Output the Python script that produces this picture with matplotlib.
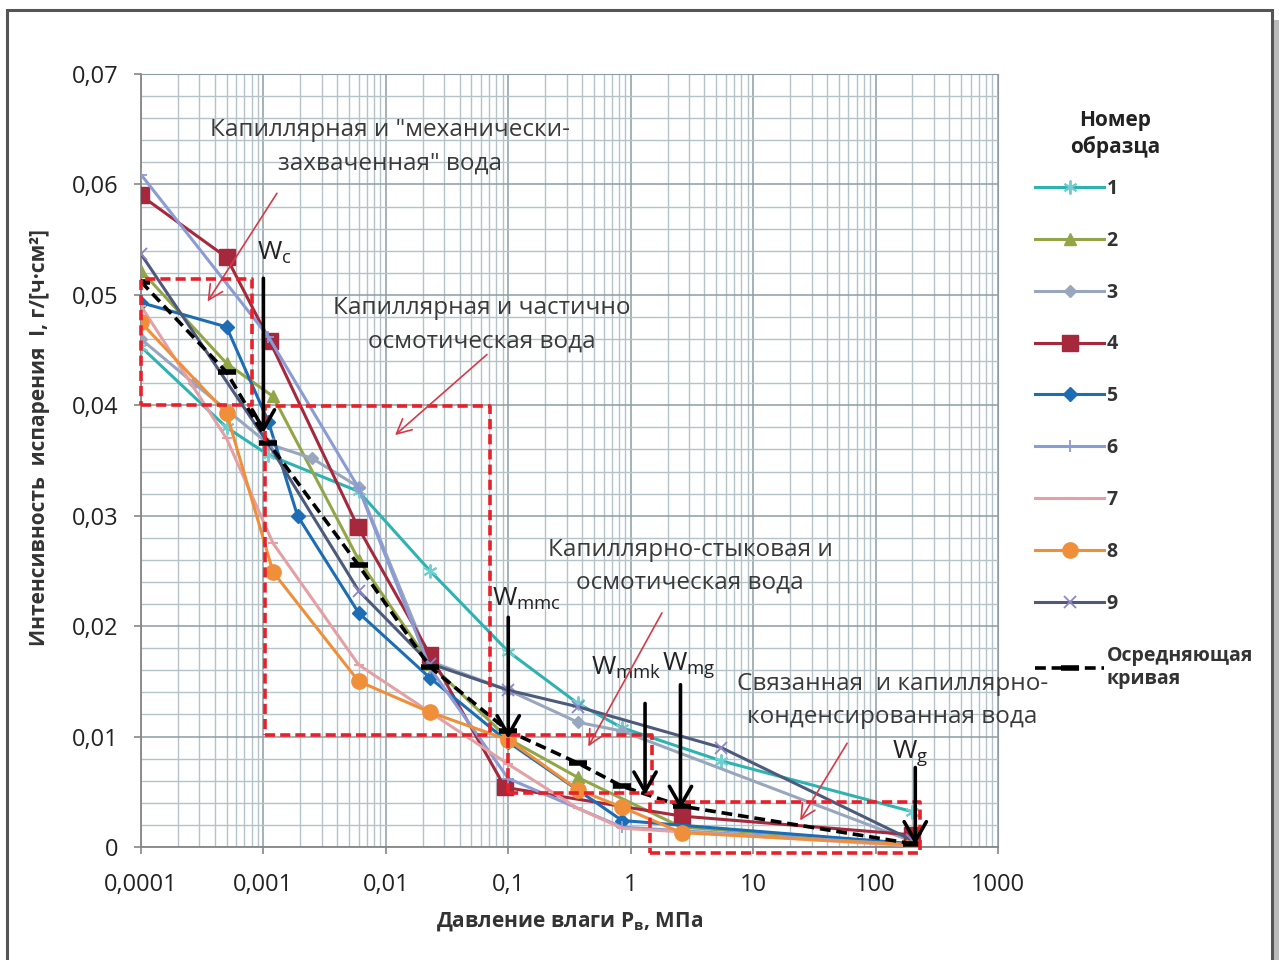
"""
Интенсивность испарения в зависимости от давления влаги (9 образцов + осредняющая кривая)
Выход: out.png
"""

import matplotlib
matplotlib.use("Agg")
import matplotlib.pyplot as plt
from matplotlib.patches import Rectangle
from matplotlib.ticker import FixedLocator, FixedFormatter, LogLocator, MultipleLocator, NullFormatter

FONT = ["Open Sans", "DejaVu Sans"]
TEXT = "#333333"
GRID_MAJ = "#8C9CA2"
GRID_MIN = "#B3C3C8"

plt.rcParams.update({
    "font.family": FONT,
    "mathtext.default": "regular",
    "text.color": TEXT,
    "axes.labelcolor": TEXT,
    "xtick.color": "#868686",
    "ytick.color": "#868686",
})

# ── Данные ────────────────────────────────────────────────────────────────────
x1 = [1e-4, 5e-4, 1.1e-3, 6e-3, 0.023, 0.1, 0.37, 0.85, 5.5, 200]
y1 = [0.0453, 0.038, 0.0355, 0.0322, 0.025, 0.0177, 0.013, 0.0108, 0.0078, 0.0032]

x2 = [1e-4, 5e-4, 1.2e-3, 6e-3, 0.023, 0.1, 0.37, 2.6, 200]
y2 = [0.0522, 0.0438, 0.0408, 0.026, 0.0166, 0.0098, 0.0063, 0.0018, 0.0003]

x3 = [1e-4, 2.7e-4, 1.1e-3, 2.5e-3, 6e-3, 0.023, 0.1, 0.37, 0.85, 200]
y3 = [0.046, 0.042, 0.0365, 0.0352, 0.0326, 0.0168, 0.0142, 0.0113, 0.0105, 0.0005]

x4 = [1e-4, 5e-4, 1.13e-3, 5.9e-3, 0.023, 0.094, 2.6, 200]
y4 = [0.059, 0.0534, 0.0458, 0.029, 0.0174, 0.0054, 0.0028, 0.0011]

x5 = [1e-4, 5e-4, 1.1e-3, 1.9e-3, 6e-3, 0.023, 0.1, 0.85, 200]
y5 = [0.0493, 0.0471, 0.0385, 0.030, 0.0212, 0.0153, 0.0095, 0.0024, 0.0003]

x6 = [1e-4, 1.1e-3, 6e-3, 0.023, 0.1, 0.85, 200]
y6 = [0.0609, 0.0462, 0.0325, 0.0162, 0.0062, 0.0018, 0.0002]

x7 = [1e-4, 5e-4, 1.2e-3, 6e-3, 0.023, 0.1, 0.37, 0.85, 200]
y7 = [0.049, 0.037, 0.0275, 0.0165, 0.0122, 0.0075, 0.0035, 0.0017, 0.0001]

x8 = [1e-4, 5e-4, 1.2e-3, 6e-3, 0.023, 0.1, 0.37, 0.85, 2.6, 200]
y8 = [0.0475, 0.0393, 0.0249, 0.015, 0.0122, 0.0097, 0.0052, 0.0036, 0.0013, 0.0002]

x9 = [1e-4, 1.1e-3, 6e-3, 0.023, 0.1, 0.37, 5.5, 200]
y9 = [0.0537, 0.0365, 0.0232, 0.0166, 0.0142, 0.0127, 0.009, 0.0006]

x_avg = [1e-4, 5e-4, 1.1e-3, 6e-3, 0.023, 0.1, 0.37, 0.85, 2.6, 200]
y_avg = [0.0512, 0.043, 0.0366, 0.0255, 0.0163, 0.0105, 0.0076, 0.0055, 0.0037, 0.0003]

x_ticks = [1e-4, 1e-3, 1e-2, 1e-1, 1, 10, 100, 1000]
x_ticklabels = ["0,0001", "0,001", "0,01", "0,1", "1", "10", "100", "1000"]
y_ticks = [0, 0.01, 0.02, 0.03, 0.04, 0.05, 0.06, 0.07]
y_ticklabels = ["0", "0,01", "0,02", "0,03", "0,04", "0,05", "0,06", "0,07"]

# зоны (красные пунктирные прямоугольники): x0, x1, y0, y1
zones = [
    (1.0e-4, 8.1e-4, 0.0400, 0.0514),
    (1.03e-3, 0.071, 0.0101, 0.0399),
    (0.1, 1.5, 0.0049, 0.0101),
    (1.45, 231, -0.0005, 0.0041),
]

# вертикальные стрелки W: x, y начала, y конца, подпись, позиция подписи
w_arrows = [
    (1.0e-3, 0.0515, 0.0375, r"W$_{c}$", (8.8e-4, 0.0538)),
    (0.1, 0.0208, 0.0098, r"W$_{mmc}$", (0.074, 0.0225)),
    (1.31, 0.0130, 0.0047, r"W$_{mmk}$", (0.47, 0.0162)),
    (2.55, 0.0147, 0.0034, r"W$_{mg}$", (1.8, 0.0165)),
    (211, 0.0072, 0.0002, r"W$_{g}$", (137, 0.0085)),
]

# подписи зон и красные стрелки к ним
zone_texts = [
    ("Капиллярная и \"механически-\nзахваченная\" вода", (0.0108, 0.0634)),
    ("Капиллярная и частично\nосмотическая вода", (0.0611, 0.0473)),
    ("Капиллярно-стыковая и\nосмотическая вода", (3.05, 0.0254)),
    ("Связанная  и капиллярно-\nконденсированная вода", (137, 0.0133)),
]
red_arrows = [
    ((1.29e-3, 0.0592), (3.5e-4, 0.0494)),
    ((0.067, 0.0446), (0.0119, 0.0373)),
    ((1.8, 0.0212), (0.45, 0.0091)),
    ((58.6, 0.0094), (24.2, 0.0024)),
]

series = [
    ("1", x1, y1, dict(color="#2FB2B2", marker=(6, 2, 0), ms=10, mew=1.4, mec="#6FCFD0")),
    ("2", x2, y2, dict(color="#93A647", marker="^", ms=9)),
    ("3", x3, y3, dict(color="#98A6BE", marker="D", ms=6)),
    ("4", x4, y4, dict(color="#A5283C", marker="s", ms=12)),
    ("5", x5, y5, dict(color="#1C6DB4", marker="D", ms=7)),
    ("6", x6, y6, dict(color="#8A9BD6", marker="+", ms=9, mew=1.3)),
    ("7", x7, y7, dict(color="#E3A1A6", marker="_", ms=7, mew=1.5)),
    ("8", x8, y8, dict(color="#F08F3A", marker="o", ms=11)),
    ("9", x9, y9, dict(color="#4E5A7C", marker="x", ms=9, mew=1.3, mec="#8E86C8")),
]

# ── Рисунок ───────────────────────────────────────────────────────────────────
fig = plt.figure(figsize=(12.79, 9.6), dpi=100)
fig.patch.set_facecolor("white")
ax = fig.add_axes([0.1102, 0.1177, 0.6701, 0.8052])

for name, xs, ys, st in series:
    ax.plot(xs, ys, lw=2.2, label=name, zorder=3, **st)

ax.plot(x_avg, y_avg, color="black", lw=2.6, ls=(0, (3, 1.6)), marker="_",
        ms=13, mew=4, label="Осредняющая\nкривая", zorder=4)

# зоны
for zx0, zx1, zy0, zy1 in zones:
    ax.plot([zx0, zx1, zx1, zx0, zx0], [zy0, zy0, zy1, zy1, zy0], color="#E8202A",
            lw=2.6, ls=(0, (2.8, 1.4)), zorder=5, clip_on=False)

# стрелки W
for wx, wy0, wy1, lab, (tx, ty) in w_arrows:
    ax.annotate("", xy=(wx, wy1), xytext=(wx, wy0),
                arrowprops=dict(arrowstyle="->,head_length=0.7,head_width=0.4",
                                color="black", lw=2.6, shrinkA=0, shrinkB=0,
                                mutation_scale=20),
                zorder=6, annotation_clip=False)
    ax.text(tx, ty, lab, fontsize=19, color="#222222", ha="left", va="center", zorder=6)

for txt, (tx, ty) in zone_texts:
    ax.text(tx, ty, txt, fontsize=17.5, color="#3A3A3A", ha="center", va="center",
            linespacing=1.5, zorder=6, clip_on=False)

for (sx, sy), (ex, ey) in red_arrows:
    ax.annotate("", xy=(ex, ey), xytext=(sx, sy),
                arrowprops=dict(arrowstyle="->,head_length=0.7,head_width=0.35",
                                color="#D63A48", lw=1.2, shrinkA=0, shrinkB=0,
                                mutation_scale=15),
                zorder=6)

# оси
ax.set_xscale("log")
ax.set_xlim(1e-4, 1000)
ax.set_ylim(0, 0.07)
ax.xaxis.set_major_locator(FixedLocator(x_ticks))
ax.xaxis.set_major_formatter(FixedFormatter(x_ticklabels))
ax.xaxis.set_minor_locator(LogLocator(base=10, subs=range(2, 10), numticks=30))
ax.xaxis.set_minor_formatter(NullFormatter())
ax.yaxis.set_major_locator(FixedLocator(y_ticks))
ax.yaxis.set_major_formatter(FixedFormatter(y_ticklabels))
ax.yaxis.set_minor_locator(MultipleLocator(0.002))

ax.grid(True, which="major", color=GRID_MAJ, lw=1.1, zorder=0)
ax.grid(True, which="minor", color=GRID_MIN, lw=1.0, zorder=0)
ax.set_axisbelow(True)
for s in ("top", "right"):
    ax.spines[s].set_color(GRID_MAJ)
for s in ("left", "bottom"):
    ax.spines[s].set_color("#868686")
    ax.spines[s].set_linewidth(1.3)

ax.tick_params(which="major", length=5, width=1.2, labelsize=17, labelcolor="#222222")
ax.tick_params(axis="y", which="major", pad=11)
ax.tick_params(axis="x", which="major", pad=14)
ax.tick_params(which="minor", length=0)

ax.set_xlabel("Давление влаги P$_{в}$, МПа", fontsize=15, fontweight="bold")
ax.set_ylabel("Интенсивность  испарения  I, г/[ч·см²]", fontsize=15, fontweight="bold")
ax.xaxis.set_label_coords(0.5, -0.0815)
ax.yaxis.set_label_coords(-0.106, 0.530)

# легенда: заголовок отдельным текстом, центрирован как в оригинале
fig.text(1115 / 1279, 1 - 134 / 960, "Номер\nобразца", ha="center", va="center",
         fontsize=15, fontweight="bold", color="#222222", linespacing=1.3)
leg = fig.legend(loc="upper left", bbox_to_anchor=(0.802, 1 - 169 / 960), frameon=False,
                 handlelength=3.5, labelspacing=1.64, handletextpad=0.15, borderpad=0,
                 prop=dict(family=FONT, weight="bold", size=14))

# рамка рисунка
fig.patches.append(Rectangle((1274 / 1279, 0), 5 / 1279, 1 - 20 / 960,
                             transform=fig.transFigure, fc="#BBBBBB", ec="none"))
fig.patches.append(Rectangle((7 / 1279, -0.05), 1265 / 1279, 1.05 - 10 / 960,
                             transform=fig.transFigure, fill=False, ec="#555555", lw=2.2))

fig.savefig("out.png", dpi=100)
